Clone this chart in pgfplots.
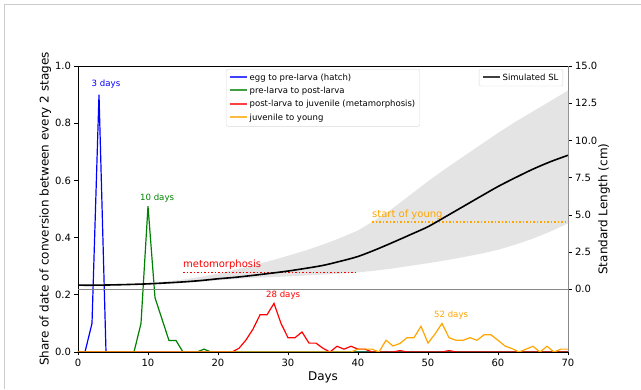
\documentclass[border=0pt]{standalone}
\usepackage{fontspec}
\setmainfont{DejaVu Sans}
\usepackage{pgfplots}
\pgfplotsset{compat=1.18}
\definecolor{mplblue}{HTML}{0000FF}
\definecolor{mplgreen}{HTML}{008000}
\definecolor{mplred}{HTML}{FF0000}
\definecolor{mplorange}{HTML}{FFA500}
\definecolor{bandgray}{HTML}{E4E4E4}
\definecolor{spinegray}{HTML}{888888}
\pgfplotsset{
  myaxis/.style={
    scale only axis, width=490pt, height=286pt,
    at={(78pt,37pt)}, anchor=south west,
    xmin=0, xmax=70,
    tick align=outside, major tick length=3.5pt,
    /pgf/number format/assume math mode=true,
    tick label style={font=\fontsize{10}{12}\selectfont},
    label style={font=\fontsize{12}{14}\selectfont},
    tick style={black, line width=0.6pt},
    legend image code/.code={\draw[##1, line width=2pt, opacity=0.75] (0pt,0.5pt) -- (17pt,0.5pt);},
  }
}
\begin{document}
\begin{tikzpicture}
\useasboundingbox (0,0) rectangle (641pt,389pt);
\draw[gray!40, line width=0.8pt] (4pt,0) -- (4pt,385pt) -- (641pt,385pt);
\begin{axis}[myaxis,
  axis x line*=bottom, axis y line*=left,
  axis line style={black, line width=0.8pt},
  ymin=0, ymax=1,
  xtick={0,10,...,70},
  ytick={0,0.2,0.4,0.6,0.8,1.0},
  yticklabel style={/pgf/number format/.cd, fixed, fixed zerofill, precision=1},
  xlabel={Days},
  ylabel={Share of date of conversion between every 2 stages},
  xlabel style={yshift=2pt},
  ylabel style={yshift=-3pt},
  legend style={at={(0.5,0.99)}, anchor=north, font=\fontsize{8.5}{10}\selectfont,
    draw=gray!30, rounded corners=2pt, fill=white, cells={anchor=west},
    inner sep=2.5pt, row sep=1.5pt},
  legend cell align=left,
]
\addplot[mplblue, line width=1.2pt] coordinates {(0,0)(1,0)(2,0.1)(3,0.9)(4,0)(70,0)};
\addlegendentry{egg to pre-larva (hatch)}
\addplot[mplgreen, line width=1.2pt] coordinates {(0,0)(8,0)(9,0.1)(10,0.51)(11,0.19)(12,0.115)(13,0.04)(14,0.04)(15,0)(17,0)(18,0.01)(19,0)(70,0)};
\addlegendentry{pre-larva to post-larva}
\addplot[mplred, line width=1.2pt] coordinates {(0,0)(22,0)(23,0.013)(24,0.042)(25,0.08)(26,0.13)(27,0.13)(28,0.17)(29,0.1)(30,0.05)(31,0.05)(32,0.07)(33,0.031)(34,0.031)(35,0.013)(36,0)(37,0.02)(38,0.01)(39,0.02)(40,0.01)(41,0.01)(42,0)(45,0)(46,0.005)(47,0)(52,0)(53,0.005)(54,0)(70,0)};
\addlegendentry{post-larva to juvenile (metamorphosis)}
\addplot[mplorange, line width=1.2pt] coordinates {(0,0)(39,0)(40,0.01)(41,0.01)(42,0.01)(43,0)(44,0.041)(45,0.021)(46,0.03)(47,0.05)(48,0.05)(49,0.09)(50,0.031)(51,0.063)(52,0.1)(53,0.05)(54,0.041)(55,0.041)(56,0.05)(57,0.041)(58,0.06)(59,0.06)(60,0.041)(61,0.021)(62,0.012)(63,0)(64,0.01)(65,0.02)(66,0)(67,0.02)(68,0)(69,0.01)(70,0.01)};
\addlegendentry{juvenile to young}
\node[text=mplblue, font=\fontsize{8.6}{10}\selectfont] at (axis cs:4,0.937) {3 days};
\node[text=mplgreen, font=\fontsize{8.6}{10}\selectfont] at (axis cs:11.3,0.537) {10 days};
\node[text=mplred, font=\fontsize{8.6}{10}\selectfont] at (axis cs:29.3,0.199) {28 days};
\node[text=mplorange, font=\fontsize{8.6}{10}\selectfont] at (axis cs:53.3,0.13) {52 days};
\end{axis}
\begin{axis}[myaxis,
  axis x line*=top, axis y line*=right,
  x axis line style={black, line width=0.8pt},
  y axis line style={spinegray, line width=1pt},
  xtick={0,70}, xticklabels={},  x tick style={draw=none},
  ymin=-4.22, ymax=15,
  ytick={0,2.5,5,7.5,10,12.5,15},
  yticklabel style={/pgf/number format/.cd, fixed, fixed zerofill, precision=1},
  ylabel={Standard Length (cm)},
  every axis y label/.style={at={(axis description cs:1,0.5)}, xshift=36pt, rotate=90, anchor=center, font=\fontsize{12}{14}\selectfont},
  legend style={at={(0.99,0.99)}, anchor=north east, font=\fontsize{8.5}{10}\selectfont,
    draw=gray!30, rounded corners=2pt, fill=white, inner sep=2.5pt},
]
\addplot[fill=bandgray, draw=none, forget plot] coordinates {
(0,0.28)(2.5,0.29)(5,0.31)(7.5,0.36)(10,0.42)(12.5,0.52)(15,0.65)(17.5,0.83)(20,1.05)(22.5,1.31)(25,1.6)(27.5,1.91)(30,2.25)(32.5,2.6)(35,3.0)(37.5,3.45)(40,3.95)(42.5,4.65)(45,5.45)(47.5,6.35)(50,7.25)(52.5,8.1)(55,8.9)(57.5,9.7)(60,10.5)(62.5,11.25)(65,11.95)(67.5,12.65)(70,13.35)
(70,4.42)(67.5,3.88)(65,3.4)(62.5,3.0)(60,2.65)(57.5,2.38)(55,2.15)(52.5,1.94)(50,1.75)(47.5,1.57)(45,1.4)(42.5,1.25)(40,1.13)(37.5,1.05)(35,0.98)(32.5,0.92)(30,0.86)(27.5,0.81)(25,0.76)(22.5,0.69)(20,0.6)(17.5,0.5)(15,0.42)(12.5,0.36)(10,0.31)(7.5,0.29)(5,0.27)(2.5,0.26)(0,0.26)} -- cycle;
\addplot[spinegray, line width=1pt, forget plot] coordinates {(0,0)(70,0)};
\addplot[mplred, line width=1.5pt, dash pattern=on 1.5pt off 2pt, forget plot] coordinates {(15,1.12)(40,1.12)};
\addplot[mplorange, line width=1.5pt, dash pattern=on 1.5pt off 2pt, forget plot] coordinates {(42,4.51)(70,4.51)};
\addplot[black, line width=1.6pt, smooth] coordinates {(0,0.27)(2.5,0.27)(5,0.29)(7.5,0.32)(10,0.36)(12.5,0.42)(15,0.49)(17.5,0.58)(20,0.7)(22.5,0.8)(25,0.93)(27.5,1.07)(30,1.22)(32.5,1.4)(35,1.6)(37.5,1.88)(40,2.2)(42.5,2.65)(45,3.15)(47.5,3.67)(50,4.2)(52.5,4.87)(55,5.55)(57.5,6.23)(60,6.9)(62.5,7.5)(65,8.07)(67.5,8.57)(70,9.0)};
\addlegendentry{Simulated SL}
\node[anchor=base west, inner sep=0pt, text=mplred, font=\fontsize{10}{12}\selectfont] at (axis cs:15,1.45) {metomorphosis};
\node[anchor=base west, inner sep=0pt, text=mplorange, font=\fontsize{10}{12}\selectfont] at (axis cs:42,4.82) {start of young};
\end{axis}
\end{tikzpicture}
\end{document}
